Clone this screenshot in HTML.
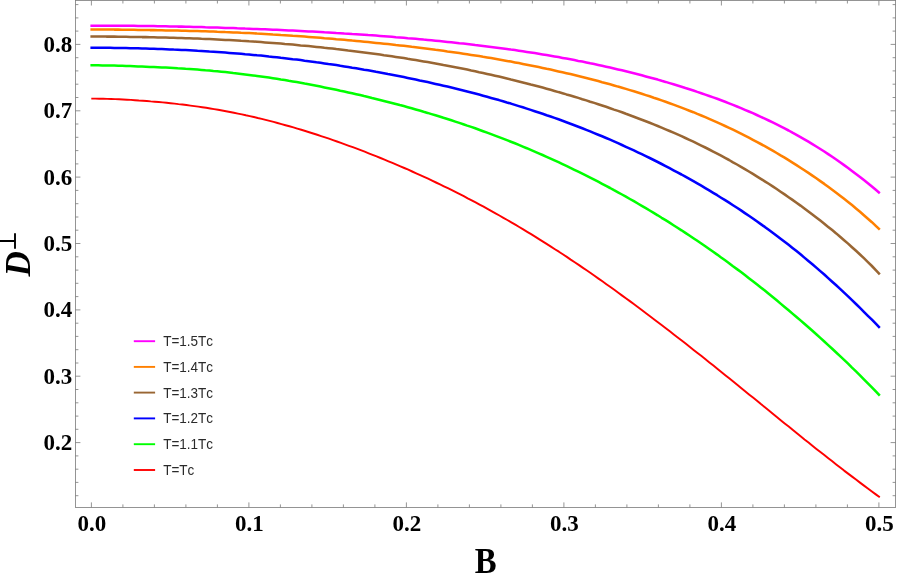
<!DOCTYPE html>
<html><head><meta charset="utf-8"><title>plot</title>
<style>
html,body{margin:0;padding:0;background:#fff;}
body{width:897px;height:581px;overflow:hidden;}
svg{display:block;will-change:transform;}
.tl text{font-family:"Liberation Serif",serif;font-weight:bold;font-size:23px;fill:#000;}
.lg text{font-family:"Liberation Sans",sans-serif;font-size:13.5px;fill:#2a2a2a;font-kerning:none;}
.ax{font-family:"Liberation Serif",serif;font-weight:bold;fill:#000;}
</style></head><body>
<svg width="897" height="581" viewBox="0 0 897 581">
<rect width="897" height="581" fill="#fff"/>
<g fill="none" stroke-linejoin="round" stroke-linecap="butt">
<path d="M91.3 98.6 L95.3 98.6 L99.2 98.7 L103.2 98.8 L107.1 98.9 L111.1 99.0 L115.1 99.1 L119.0 99.3 L123.0 99.5 L127.0 99.7 L130.9 99.9 L134.9 100.2 L138.8 100.5 L142.8 100.7 L146.8 101.0 L150.7 101.4 L154.7 101.7 L158.7 102.0 L162.6 102.4 L166.6 102.8 L170.5 103.2 L174.5 103.6 L178.5 104.1 L182.4 104.5 L186.4 105.0 L190.4 105.6 L194.3 106.1 L198.3 106.6 L202.2 107.2 L206.2 107.8 L210.2 108.5 L214.1 109.1 L218.1 109.8 L222.1 110.5 L226.0 111.2 L230.0 112.0 L233.9 112.8 L237.9 113.6 L241.9 114.4 L245.8 115.3 L249.8 116.1 L253.8 117.0 L257.7 118.0 L261.7 118.9 L265.6 119.9 L269.6 120.9 L273.6 121.9 L277.5 123.0 L281.5 124.1 L285.5 125.2 L289.4 126.3 L293.4 127.4 L297.3 128.6 L301.3 129.8 L305.3 131.0 L309.2 132.2 L313.2 133.5 L317.2 134.8 L321.1 136.1 L325.1 137.4 L329.0 138.7 L333.0 140.1 L337.0 141.5 L340.9 142.9 L344.9 144.3 L348.9 145.8 L352.8 147.2 L356.8 148.7 L360.7 150.2 L364.7 151.7 L368.7 153.3 L372.6 154.8 L376.6 156.4 L380.5 158.0 L384.5 159.6 L388.5 161.3 L392.4 162.9 L396.4 164.6 L400.4 166.3 L404.3 168.0 L408.3 169.7 L412.2 171.5 L416.2 173.3 L420.2 175.1 L424.1 176.9 L428.1 178.7 L432.1 180.6 L436.0 182.5 L440.0 184.4 L443.9 186.3 L447.9 188.2 L451.9 190.2 L455.8 192.2 L459.8 194.2 L463.8 196.2 L467.7 198.3 L471.7 200.3 L475.6 202.4 L479.6 204.6 L483.6 206.7 L487.5 208.9 L491.5 211.1 L495.5 213.3 L499.4 215.5 L503.4 217.8 L507.3 220.0 L511.3 222.3 L515.3 224.7 L519.2 227.0 L523.2 229.4 L527.2 231.8 L531.1 234.2 L535.1 236.6 L539.0 239.1 L543.0 241.6 L547.0 244.1 L550.9 246.6 L554.9 249.2 L558.9 251.7 L562.8 254.3 L566.8 256.9 L570.7 259.6 L574.7 262.2 L578.7 264.9 L582.6 267.6 L586.6 270.3 L590.6 273.0 L594.5 275.8 L598.5 278.6 L602.4 281.3 L606.4 284.2 L610.4 287.0 L614.3 289.8 L618.3 292.7 L622.2 295.6 L626.2 298.5 L630.2 301.4 L634.1 304.3 L638.1 307.2 L642.1 310.2 L646.0 313.2 L650.0 316.2 L653.9 319.2 L657.9 322.2 L661.9 325.2 L665.8 328.2 L669.8 331.3 L673.8 334.4 L677.7 337.4 L681.7 340.5 L685.6 343.6 L689.6 346.7 L693.6 349.9 L697.5 353.0 L701.5 356.1 L705.5 359.3 L709.4 362.4 L713.4 365.6 L717.3 368.8 L721.3 372.0 L725.3 375.2 L729.2 378.3 L733.2 381.5 L737.2 384.8 L741.1 388.0 L745.1 391.2 L749.0 394.4 L753.0 397.6 L757.0 400.8 L760.9 404.1 L764.9 407.3 L768.9 410.5 L772.8 413.7 L776.8 417.0 L780.7 420.2 L784.7 423.4 L788.7 426.6 L792.6 429.8 L796.6 433.0 L800.6 436.2 L804.5 439.4 L808.5 442.5 L812.4 445.7 L816.4 448.9 L820.4 452.0 L824.3 455.1 L828.3 458.2 L832.3 461.3 L836.2 464.4 L840.2 467.5 L844.1 470.6 L848.1 473.6 L852.1 476.6 L856.0 479.6 L860.0 482.6 L864.0 485.6 L867.9 488.5 L871.9 491.5 L875.8 494.4 L879.8 497.3" stroke="#ff0000" stroke-width="1.95"/>
<path d="M90.4 65.3 L94.4 65.3 L98.3 65.3 L102.3 65.4 L106.3 65.5 L110.2 65.5 L114.2 65.6 L118.2 65.7 L122.1 65.8 L126.1 66.0 L130.1 66.1 L134.0 66.2 L138.0 66.4 L142.0 66.5 L145.9 66.7 L149.9 66.9 L153.9 67.0 L157.8 67.2 L161.8 67.4 L165.8 67.6 L169.7 67.8 L173.7 68.0 L177.7 68.3 L181.6 68.5 L185.6 68.8 L189.6 69.0 L193.5 69.3 L197.5 69.6 L201.5 69.9 L205.4 70.3 L209.4 70.6 L213.4 71.0 L217.3 71.3 L221.3 71.7 L225.3 72.1 L229.2 72.5 L233.2 73.0 L237.2 73.4 L241.1 73.9 L245.1 74.4 L249.1 74.9 L253.0 75.4 L257.0 75.9 L261.0 76.5 L264.9 77.0 L268.9 77.6 L272.9 78.2 L276.8 78.8 L280.8 79.5 L284.8 80.1 L288.7 80.8 L292.7 81.4 L296.7 82.1 L300.6 82.8 L304.6 83.6 L308.6 84.3 L312.5 85.0 L316.5 85.8 L320.5 86.6 L324.4 87.4 L328.4 88.2 L332.4 89.0 L336.3 89.8 L340.3 90.7 L344.3 91.5 L348.2 92.4 L352.2 93.3 L356.2 94.2 L360.1 95.1 L364.1 96.1 L368.1 97.0 L372.0 98.0 L376.0 98.9 L380.0 99.9 L383.9 100.9 L387.9 101.9 L391.9 103.0 L395.8 104.0 L399.8 105.1 L403.8 106.1 L407.7 107.2 L411.7 108.3 L415.7 109.5 L419.6 110.6 L423.6 111.8 L427.6 112.9 L431.5 114.1 L435.5 115.3 L439.5 116.5 L443.4 117.8 L447.4 119.0 L451.4 120.3 L455.3 121.6 L459.3 122.9 L463.3 124.2 L467.2 125.6 L471.2 126.9 L475.2 128.3 L479.1 129.7 L483.1 131.2 L487.1 132.6 L491.1 134.1 L495.0 135.6 L499.0 137.1 L503.0 138.6 L506.9 140.1 L510.9 141.7 L514.9 143.3 L518.8 144.9 L522.8 146.6 L526.8 148.2 L530.7 149.9 L534.7 151.6 L538.7 153.3 L542.6 155.0 L546.6 156.8 L550.6 158.6 L554.5 160.4 L558.5 162.2 L562.5 164.1 L566.4 165.9 L570.4 167.8 L574.4 169.8 L578.3 171.7 L582.3 173.7 L586.3 175.6 L590.2 177.6 L594.2 179.7 L598.2 181.7 L602.1 183.8 L606.1 185.9 L610.1 188.0 L614.0 190.2 L618.0 192.3 L622.0 194.5 L625.9 196.7 L629.9 199.0 L633.9 201.2 L637.8 203.5 L641.8 205.8 L645.8 208.2 L649.7 210.5 L653.7 212.9 L657.7 215.3 L661.6 217.8 L665.6 220.2 L669.6 222.7 L673.5 225.2 L677.5 227.8 L681.5 230.3 L685.4 232.9 L689.4 235.5 L693.4 238.2 L697.3 240.8 L701.3 243.5 L705.3 246.3 L709.2 249.0 L713.2 251.8 L717.2 254.6 L721.1 257.5 L725.1 260.3 L729.1 263.2 L733.0 266.2 L737.0 269.1 L741.0 272.1 L744.9 275.1 L748.9 278.2 L752.9 281.2 L756.8 284.3 L760.8 287.5 L764.8 290.6 L768.7 293.8 L772.7 297.0 L776.7 300.3 L780.6 303.6 L784.6 306.9 L788.6 310.2 L792.5 313.6 L796.5 317.0 L800.5 320.4 L804.4 323.8 L808.4 327.3 L812.4 330.8 L816.3 334.3 L820.3 337.9 L824.3 341.5 L828.2 345.1 L832.2 348.8 L836.2 352.5 L840.1 356.2 L844.1 359.9 L848.1 363.7 L852.0 367.6 L856.0 371.4 L860.0 375.3 L863.9 379.3 L867.9 383.3 L871.9 387.3 L875.8 391.4 L879.8 395.6" stroke="#00ff00" stroke-width="2.55"/>
<path d="M90.4 47.7 L94.4 47.7 L98.3 47.7 L102.3 47.7 L106.3 47.8 L110.2 47.8 L114.2 47.9 L118.2 47.9 L122.1 48.0 L126.1 48.1 L130.1 48.2 L134.0 48.3 L138.0 48.3 L142.0 48.5 L145.9 48.6 L149.9 48.7 L153.9 48.8 L157.8 49.0 L161.8 49.1 L165.8 49.2 L169.7 49.4 L173.7 49.6 L177.7 49.7 L181.6 49.9 L185.6 50.1 L189.6 50.3 L193.5 50.5 L197.5 50.8 L201.5 51.0 L205.4 51.2 L209.4 51.5 L213.4 51.7 L217.3 52.0 L221.3 52.3 L225.3 52.6 L229.2 52.9 L233.2 53.2 L237.2 53.5 L241.1 53.8 L245.1 54.2 L249.1 54.5 L253.0 54.9 L257.0 55.3 L261.0 55.6 L264.9 56.0 L268.9 56.5 L272.9 56.9 L276.8 57.3 L280.8 57.8 L284.8 58.2 L288.7 58.7 L292.7 59.2 L296.7 59.6 L300.6 60.1 L304.6 60.7 L308.6 61.2 L312.5 61.7 L316.5 62.3 L320.5 62.8 L324.4 63.4 L328.4 64.0 L332.4 64.5 L336.3 65.1 L340.3 65.8 L344.3 66.4 L348.2 67.0 L352.2 67.7 L356.2 68.3 L360.1 69.0 L364.1 69.7 L368.1 70.3 L372.0 71.0 L376.0 71.8 L380.0 72.5 L383.9 73.2 L387.9 74.0 L391.9 74.7 L395.8 75.5 L399.8 76.3 L403.8 77.1 L407.7 77.9 L411.7 78.7 L415.7 79.5 L419.6 80.4 L423.6 81.2 L427.6 82.1 L431.5 83.0 L435.5 83.9 L439.5 84.8 L443.4 85.7 L447.4 86.6 L451.4 87.6 L455.3 88.5 L459.3 89.5 L463.3 90.5 L467.2 91.5 L471.2 92.5 L475.2 93.6 L479.1 94.6 L483.1 95.7 L487.1 96.8 L491.1 97.9 L495.0 99.0 L499.0 100.1 L503.0 101.3 L506.9 102.5 L510.9 103.6 L514.9 104.9 L518.8 106.1 L522.8 107.3 L526.8 108.6 L530.7 109.9 L534.7 111.2 L538.7 112.5 L542.6 113.8 L546.6 115.2 L550.6 116.5 L554.5 117.9 L558.5 119.3 L562.5 120.8 L566.4 122.2 L570.4 123.7 L574.4 125.2 L578.3 126.7 L582.3 128.3 L586.3 129.9 L590.2 131.4 L594.2 133.1 L598.2 134.7 L602.1 136.3 L606.1 138.0 L610.1 139.7 L614.0 141.4 L618.0 143.2 L622.0 145.0 L625.9 146.8 L629.9 148.6 L633.9 150.4 L637.8 152.3 L641.8 154.2 L645.8 156.1 L649.7 158.0 L653.7 160.0 L657.7 162.0 L661.6 164.0 L665.6 166.1 L669.6 168.2 L673.5 170.3 L677.5 172.4 L681.5 174.5 L685.4 176.7 L689.4 178.9 L693.4 181.2 L697.3 183.4 L701.3 185.7 L705.3 188.1 L709.2 190.4 L713.2 192.8 L717.2 195.2 L721.1 197.7 L725.1 200.2 L729.1 202.7 L733.0 205.2 L737.0 207.8 L741.0 210.4 L744.9 213.1 L748.9 215.8 L752.9 218.5 L756.8 221.3 L760.8 224.1 L764.8 226.9 L768.7 229.8 L772.7 232.7 L776.7 235.7 L780.6 238.7 L784.6 241.7 L788.6 244.8 L792.5 247.9 L796.5 251.1 L800.5 254.3 L804.4 257.6 L808.4 260.9 L812.4 264.2 L816.3 267.6 L820.3 271.1 L824.3 274.5 L828.2 278.1 L832.2 281.7 L836.2 285.3 L840.1 288.9 L844.1 292.7 L848.1 296.4 L852.0 300.2 L856.0 304.0 L860.0 307.9 L863.9 311.8 L867.9 315.8 L871.9 319.7 L875.8 323.7 L879.8 327.8" stroke="#0000ff" stroke-width="2.55"/>
<path d="M90.4 36.5 L94.4 36.5 L98.3 36.5 L102.3 36.5 L106.3 36.6 L110.2 36.6 L114.2 36.6 L118.2 36.7 L122.1 36.7 L126.1 36.8 L130.1 36.9 L134.0 36.9 L138.0 37.0 L142.0 37.1 L145.9 37.1 L149.9 37.2 L153.9 37.3 L157.8 37.4 L161.8 37.5 L165.8 37.6 L169.7 37.7 L173.7 37.8 L177.7 37.9 L181.6 38.0 L185.6 38.2 L189.6 38.3 L193.5 38.4 L197.5 38.6 L201.5 38.8 L205.4 38.9 L209.4 39.1 L213.4 39.3 L217.3 39.5 L221.3 39.7 L225.3 39.9 L229.2 40.1 L233.2 40.3 L237.2 40.5 L241.1 40.8 L245.1 41.0 L249.1 41.3 L253.0 41.5 L257.0 41.8 L261.0 42.1 L264.9 42.4 L268.9 42.7 L272.9 43.0 L276.8 43.3 L280.8 43.6 L284.8 44.0 L288.7 44.3 L292.7 44.6 L296.7 45.0 L300.6 45.4 L304.6 45.7 L308.6 46.1 L312.5 46.5 L316.5 46.9 L320.5 47.3 L324.4 47.8 L328.4 48.2 L332.4 48.6 L336.3 49.1 L340.3 49.5 L344.3 50.0 L348.2 50.5 L352.2 50.9 L356.2 51.4 L360.1 51.9 L364.1 52.4 L368.1 53.0 L372.0 53.5 L376.0 54.0 L380.0 54.6 L383.9 55.2 L387.9 55.7 L391.9 56.3 L395.8 56.9 L399.8 57.5 L403.8 58.1 L407.7 58.8 L411.7 59.4 L415.7 60.1 L419.6 60.7 L423.6 61.4 L427.6 62.1 L431.5 62.8 L435.5 63.5 L439.5 64.2 L443.4 65.0 L447.4 65.7 L451.4 66.5 L455.3 67.2 L459.3 68.0 L463.3 68.8 L467.2 69.6 L471.2 70.5 L475.2 71.3 L479.1 72.2 L483.1 73.0 L487.1 73.9 L491.1 74.8 L495.0 75.7 L499.0 76.6 L503.0 77.6 L506.9 78.5 L510.9 79.5 L514.9 80.4 L518.8 81.4 L522.8 82.4 L526.8 83.4 L530.7 84.5 L534.7 85.5 L538.7 86.6 L542.6 87.6 L546.6 88.7 L550.6 89.8 L554.5 90.9 L558.5 92.1 L562.5 93.2 L566.4 94.4 L570.4 95.5 L574.4 96.7 L578.3 97.9 L582.3 99.2 L586.3 100.4 L590.2 101.7 L594.2 102.9 L598.2 104.2 L602.1 105.5 L606.1 106.8 L610.1 108.2 L614.0 109.6 L618.0 110.9 L622.0 112.3 L625.9 113.8 L629.9 115.2 L633.9 116.7 L637.8 118.2 L641.8 119.7 L645.8 121.2 L649.7 122.8 L653.7 124.4 L657.7 126.0 L661.6 127.6 L665.6 129.3 L669.6 131.0 L673.5 132.7 L677.5 134.4 L681.5 136.2 L685.4 138.0 L689.4 139.9 L693.4 141.7 L697.3 143.6 L701.3 145.6 L705.3 147.5 L709.2 149.5 L713.2 151.6 L717.2 153.6 L721.1 155.7 L725.1 157.9 L729.1 160.0 L733.0 162.3 L737.0 164.5 L741.0 166.8 L744.9 169.1 L748.9 171.5 L752.9 173.9 L756.8 176.3 L760.8 178.8 L764.8 181.3 L768.7 183.8 L772.7 186.4 L776.7 189.0 L780.6 191.7 L784.6 194.4 L788.6 197.2 L792.5 199.9 L796.5 202.8 L800.5 205.6 L804.4 208.5 L808.4 211.5 L812.4 214.5 L816.3 217.5 L820.3 220.6 L824.3 223.7 L828.2 226.9 L832.2 230.1 L836.2 233.4 L840.1 236.8 L844.1 240.2 L848.1 243.6 L852.0 247.2 L856.0 250.8 L860.0 254.5 L863.9 258.2 L867.9 262.1 L871.9 266.0 L875.8 270.1 L879.8 274.3" stroke="#996633" stroke-width="2.55"/>
<path d="M90.4 29.4 L94.4 29.4 L98.3 29.4 L102.3 29.5 L106.3 29.5 L110.2 29.5 L114.2 29.6 L118.2 29.6 L122.1 29.7 L126.1 29.7 L130.1 29.8 L134.0 29.8 L138.0 29.9 L142.0 29.9 L145.9 30.0 L149.9 30.1 L153.9 30.1 L157.8 30.2 L161.8 30.3 L165.8 30.4 L169.7 30.4 L173.7 30.5 L177.7 30.6 L181.6 30.7 L185.6 30.8 L189.6 30.9 L193.5 31.0 L197.5 31.1 L201.5 31.2 L205.4 31.3 L209.4 31.5 L213.4 31.6 L217.3 31.8 L221.3 31.9 L225.3 32.1 L229.2 32.2 L233.2 32.4 L237.2 32.6 L241.1 32.8 L245.1 32.9 L249.1 33.1 L253.0 33.3 L257.0 33.6 L261.0 33.8 L264.9 34.0 L268.9 34.2 L272.9 34.5 L276.8 34.7 L280.8 35.0 L284.8 35.2 L288.7 35.5 L292.7 35.8 L296.7 36.0 L300.6 36.3 L304.6 36.6 L308.6 36.9 L312.5 37.2 L316.5 37.5 L320.5 37.8 L324.4 38.2 L328.4 38.5 L332.4 38.8 L336.3 39.2 L340.3 39.5 L344.3 39.8 L348.2 40.2 L352.2 40.6 L356.2 40.9 L360.1 41.3 L364.1 41.7 L368.1 42.1 L372.0 42.5 L376.0 42.9 L380.0 43.3 L383.9 43.7 L387.9 44.1 L391.9 44.5 L395.8 45.0 L399.8 45.4 L403.8 45.8 L407.7 46.3 L411.7 46.8 L415.7 47.2 L419.6 47.7 L423.6 48.2 L427.6 48.7 L431.5 49.2 L435.5 49.8 L439.5 50.3 L443.4 50.8 L447.4 51.4 L451.4 51.9 L455.3 52.5 L459.3 53.1 L463.3 53.7 L467.2 54.3 L471.2 54.9 L475.2 55.5 L479.1 56.1 L483.1 56.8 L487.1 57.4 L491.1 58.1 L495.0 58.8 L499.0 59.5 L503.0 60.2 L506.9 60.9 L510.9 61.6 L514.9 62.4 L518.8 63.1 L522.8 63.9 L526.8 64.7 L530.7 65.5 L534.7 66.3 L538.7 67.1 L542.6 67.9 L546.6 68.8 L550.6 69.6 L554.5 70.5 L558.5 71.4 L562.5 72.3 L566.4 73.2 L570.4 74.1 L574.4 75.1 L578.3 76.0 L582.3 77.0 L586.3 78.0 L590.2 79.0 L594.2 80.0 L598.2 81.1 L602.1 82.2 L606.1 83.2 L610.1 84.3 L614.0 85.4 L618.0 86.6 L622.0 87.7 L625.9 88.9 L629.9 90.1 L633.9 91.3 L637.8 92.5 L641.8 93.8 L645.8 95.1 L649.7 96.3 L653.7 97.7 L657.7 99.0 L661.6 100.4 L665.6 101.8 L669.6 103.2 L673.5 104.6 L677.5 106.1 L681.5 107.6 L685.4 109.1 L689.4 110.7 L693.4 112.2 L697.3 113.9 L701.3 115.5 L705.3 117.2 L709.2 118.9 L713.2 120.6 L717.2 122.4 L721.1 124.2 L725.1 126.0 L729.1 127.8 L733.0 129.7 L737.0 131.7 L741.0 133.6 L744.9 135.6 L748.9 137.7 L752.9 139.8 L756.8 141.9 L760.8 144.0 L764.8 146.2 L768.7 148.4 L772.7 150.7 L776.7 153.0 L780.6 155.4 L784.6 157.7 L788.6 160.2 L792.5 162.6 L796.5 165.1 L800.5 167.7 L804.4 170.3 L808.4 172.9 L812.4 175.6 L816.3 178.3 L820.3 181.1 L824.3 183.9 L828.2 186.8 L832.2 189.7 L836.2 192.7 L840.1 195.7 L844.1 198.8 L848.1 201.9 L852.0 205.1 L856.0 208.4 L860.0 211.7 L863.9 215.2 L867.9 218.7 L871.9 222.2 L875.8 225.9 L879.8 229.7" stroke="#ff8000" stroke-width="2.55"/>
<path d="M90.4 25.7 L94.4 25.7 L98.3 25.7 L102.3 25.7 L106.3 25.7 L110.2 25.7 L114.2 25.7 L118.2 25.7 L122.1 25.7 L126.1 25.8 L130.1 25.8 L134.0 25.8 L138.0 25.9 L142.0 25.9 L145.9 26.0 L149.9 26.0 L153.9 26.1 L157.8 26.2 L161.8 26.2 L165.8 26.3 L169.7 26.4 L173.7 26.5 L177.7 26.6 L181.6 26.6 L185.6 26.7 L189.6 26.8 L193.5 26.9 L197.5 27.0 L201.5 27.1 L205.4 27.3 L209.4 27.4 L213.4 27.5 L217.3 27.6 L221.3 27.7 L225.3 27.9 L229.2 28.0 L233.2 28.1 L237.2 28.3 L241.1 28.4 L245.1 28.6 L249.1 28.7 L253.0 28.9 L257.0 29.0 L261.0 29.2 L264.9 29.3 L268.9 29.5 L272.9 29.7 L276.8 29.8 L280.8 30.0 L284.8 30.2 L288.7 30.4 L292.7 30.6 L296.7 30.8 L300.6 31.0 L304.6 31.2 L308.6 31.4 L312.5 31.6 L316.5 31.8 L320.5 32.0 L324.4 32.3 L328.4 32.5 L332.4 32.7 L336.3 33.0 L340.3 33.2 L344.3 33.5 L348.2 33.7 L352.2 34.0 L356.2 34.2 L360.1 34.5 L364.1 34.8 L368.1 35.1 L372.0 35.3 L376.0 35.6 L380.0 35.9 L383.9 36.2 L387.9 36.5 L391.9 36.8 L395.8 37.2 L399.8 37.5 L403.8 37.8 L407.7 38.2 L411.7 38.5 L415.7 38.8 L419.6 39.2 L423.6 39.6 L427.6 39.9 L431.5 40.3 L435.5 40.7 L439.5 41.1 L443.4 41.5 L447.4 41.9 L451.4 42.3 L455.3 42.7 L459.3 43.2 L463.3 43.6 L467.2 44.0 L471.2 44.5 L475.2 45.0 L479.1 45.4 L483.1 45.9 L487.1 46.4 L491.1 46.9 L495.0 47.4 L499.0 47.9 L503.0 48.5 L506.9 49.0 L510.9 49.6 L514.9 50.1 L518.8 50.7 L522.8 51.3 L526.8 51.9 L530.7 52.5 L534.7 53.1 L538.7 53.8 L542.6 54.4 L546.6 55.1 L550.6 55.8 L554.5 56.4 L558.5 57.1 L562.5 57.9 L566.4 58.6 L570.4 59.3 L574.4 60.1 L578.3 60.9 L582.3 61.6 L586.3 62.4 L590.2 63.3 L594.2 64.1 L598.2 64.9 L602.1 65.8 L606.1 66.7 L610.1 67.6 L614.0 68.5 L618.0 69.4 L622.0 70.3 L625.9 71.3 L629.9 72.3 L633.9 73.3 L637.8 74.3 L641.8 75.3 L645.8 76.4 L649.7 77.4 L653.7 78.5 L657.7 79.6 L661.6 80.8 L665.6 81.9 L669.6 83.1 L673.5 84.3 L677.5 85.5 L681.5 86.7 L685.4 88.0 L689.4 89.2 L693.4 90.5 L697.3 91.9 L701.3 93.2 L705.3 94.6 L709.2 96.0 L713.2 97.4 L717.2 98.8 L721.1 100.3 L725.1 101.8 L729.1 103.4 L733.0 104.9 L737.0 106.5 L741.0 108.1 L744.9 109.8 L748.9 111.5 L752.9 113.2 L756.8 115.0 L760.8 116.8 L764.8 118.6 L768.7 120.5 L772.7 122.4 L776.7 124.4 L780.6 126.4 L784.6 128.4 L788.6 130.5 L792.5 132.7 L796.5 134.8 L800.5 137.1 L804.4 139.3 L808.4 141.7 L812.4 144.1 L816.3 146.5 L820.3 149.0 L824.3 151.5 L828.2 154.1 L832.2 156.8 L836.2 159.5 L840.1 162.3 L844.1 165.1 L848.1 168.0 L852.0 171.0 L856.0 174.0 L860.0 177.0 L863.9 180.1 L867.9 183.3 L871.9 186.6 L875.8 189.8 L879.8 193.2" stroke="#ff00ff" stroke-width="2.55"/>
</g>
<rect x="75.4" y="0.5" width="820.2" height="506.9" fill="none" stroke="#7a7a7a" stroke-width="0.8"/>
<path d="M91.4 507.4 v-5.0 M91.4 0.5 v5.0 M122.9 507.4 v-3.0 M122.9 0.5 v3.0 M154.4 507.4 v-3.0 M154.4 0.5 v3.0 M185.9 507.4 v-3.0 M185.9 0.5 v3.0 M217.4 507.4 v-3.0 M217.4 0.5 v3.0 M248.9 507.4 v-5.0 M248.9 0.5 v5.0 M280.4 507.4 v-3.0 M280.4 0.5 v3.0 M311.9 507.4 v-3.0 M311.9 0.5 v3.0 M343.4 507.4 v-3.0 M343.4 0.5 v3.0 M374.9 507.4 v-3.0 M374.9 0.5 v3.0 M406.4 507.4 v-5.0 M406.4 0.5 v5.0 M437.9 507.4 v-3.0 M437.9 0.5 v3.0 M469.4 507.4 v-3.0 M469.4 0.5 v3.0 M500.9 507.4 v-3.0 M500.9 0.5 v3.0 M532.4 507.4 v-3.0 M532.4 0.5 v3.0 M563.9 507.4 v-5.0 M563.9 0.5 v5.0 M595.4 507.4 v-3.0 M595.4 0.5 v3.0 M626.9 507.4 v-3.0 M626.9 0.5 v3.0 M658.4 507.4 v-3.0 M658.4 0.5 v3.0 M689.9 507.4 v-3.0 M689.9 0.5 v3.0 M721.4 507.4 v-5.0 M721.4 0.5 v5.0 M752.9 507.4 v-3.0 M752.9 0.5 v3.0 M784.4 507.4 v-3.0 M784.4 0.5 v3.0 M815.9 507.4 v-3.0 M815.9 0.5 v3.0 M847.4 507.4 v-3.0 M847.4 0.5 v3.0 M878.9 507.4 v-5.0 M878.9 0.5 v5.0 M75.4 495.7 h3.0 M895.6 495.7 h-3.0 M75.4 482.4 h3.0 M895.6 482.4 h-3.0 M75.4 469.2 h3.0 M895.6 469.2 h-3.0 M75.4 455.9 h3.0 M895.6 455.9 h-3.0 M75.4 442.6 h5.0 M895.6 442.6 h-5.0 M75.4 429.3 h3.0 M895.6 429.3 h-3.0 M75.4 416.1 h3.0 M895.6 416.1 h-3.0 M75.4 402.8 h3.0 M895.6 402.8 h-3.0 M75.4 389.5 h3.0 M895.6 389.5 h-3.0 M75.4 376.2 h5.0 M895.6 376.2 h-5.0 M75.4 363.0 h3.0 M895.6 363.0 h-3.0 M75.4 349.7 h3.0 M895.6 349.7 h-3.0 M75.4 336.4 h3.0 M895.6 336.4 h-3.0 M75.4 323.2 h3.0 M895.6 323.2 h-3.0 M75.4 309.9 h5.0 M895.6 309.9 h-5.0 M75.4 296.6 h3.0 M895.6 296.6 h-3.0 M75.4 283.3 h3.0 M895.6 283.3 h-3.0 M75.4 270.1 h3.0 M895.6 270.1 h-3.0 M75.4 256.8 h3.0 M895.6 256.8 h-3.0 M75.4 243.5 h5.0 M895.6 243.5 h-5.0 M75.4 230.2 h3.0 M895.6 230.2 h-3.0 M75.4 217.0 h3.0 M895.6 217.0 h-3.0 M75.4 203.7 h3.0 M895.6 203.7 h-3.0 M75.4 190.4 h3.0 M895.6 190.4 h-3.0 M75.4 177.1 h5.0 M895.6 177.1 h-5.0 M75.4 163.9 h3.0 M895.6 163.9 h-3.0 M75.4 150.6 h3.0 M895.6 150.6 h-3.0 M75.4 137.3 h3.0 M895.6 137.3 h-3.0 M75.4 124.0 h3.0 M895.6 124.0 h-3.0 M75.4 110.8 h5.0 M895.6 110.8 h-5.0 M75.4 97.5 h3.0 M895.6 97.5 h-3.0 M75.4 84.2 h3.0 M895.6 84.2 h-3.0 M75.4 70.9 h3.0 M895.6 70.9 h-3.0 M75.4 57.7 h3.0 M895.6 57.7 h-3.0 M75.4 44.4 h5.0 M895.6 44.4 h-5.0 M75.4 31.1 h3.0 M895.6 31.1 h-3.0 M75.4 17.9 h3.0 M895.6 17.9 h-3.0 M75.4 4.6 h3.0 M895.6 4.6 h-3.0" stroke="#7a7a7a" stroke-width="0.8" fill="none"/>
<g class="tl">
<text transform="translate(91.8,531.4) scale(1,1.02)" text-anchor="middle">0.0</text>
<text transform="translate(249.3,531.4) scale(1,1.02)" text-anchor="middle">0.1</text>
<text transform="translate(406.8,531.4) scale(1,1.02)" text-anchor="middle">0.2</text>
<text transform="translate(564.3,531.4) scale(1,1.02)" text-anchor="middle">0.3</text>
<text transform="translate(721.8,531.4) scale(1,1.02)" text-anchor="middle">0.4</text>
<text transform="translate(879.3,531.4) scale(1,1.02)" text-anchor="middle">0.5</text>
<text transform="translate(72.3,450.1) scale(1,1.02)" text-anchor="end">0.2</text>
<text transform="translate(72.3,383.8) scale(1,1.02)" text-anchor="end">0.3</text>
<text transform="translate(72.3,317.4) scale(1,1.02)" text-anchor="end">0.4</text>
<text transform="translate(72.3,251.0) scale(1,1.02)" text-anchor="end">0.5</text>
<text transform="translate(72.3,184.6) scale(1,1.02)" text-anchor="end">0.6</text>
<text transform="translate(72.3,118.3) scale(1,1.02)" text-anchor="end">0.7</text>
<text transform="translate(72.3,51.9) scale(1,1.02)" text-anchor="end">0.8</text>
</g>
<g class="lg" fill="none">
<path d="M133.8 341.2 H155.1" stroke="#ff00ff" stroke-width="1.9"/>
<text transform="translate(163.2,346.1) scale(1,1.04)">T=1.5Tc</text>
<path d="M133.8 366.9 H155.1" stroke="#ff8000" stroke-width="1.9"/>
<text transform="translate(163.2,371.8) scale(1,1.04)">T=1.4Tc</text>
<path d="M133.8 392.6 H155.1" stroke="#996633" stroke-width="1.9"/>
<text transform="translate(163.2,397.5) scale(1,1.04)">T=1.3Tc</text>
<path d="M133.8 418.4 H155.1" stroke="#0000ff" stroke-width="1.9"/>
<text transform="translate(163.2,423.3) scale(1,1.04)">T=1.2Tc</text>
<path d="M133.8 444.2 H155.1" stroke="#00ff00" stroke-width="1.9"/>
<text transform="translate(163.2,449.1) scale(1,1.04)">T=1.1Tc</text>
<path d="M133.8 470.0 H155.1" stroke="#ff0000" stroke-width="1.9"/>
<text transform="translate(163.2,474.9) scale(1,1.04)">T=Tc</text>
</g>
<text class="ax" transform="translate(485.8,572.7) scale(1,1.065)" text-anchor="middle" font-size="32.8">B</text>
<g transform="translate(30,276.5) rotate(-90)">
<text class="ax" x="0" y="0" font-size="35.2" font-style="italic">D</text>
<path d="M27.7 -15 H43.3 M35.5 -15 v-16" stroke="#000" stroke-width="1.9" fill="none"/>
</g>
</svg>
</body></html>
